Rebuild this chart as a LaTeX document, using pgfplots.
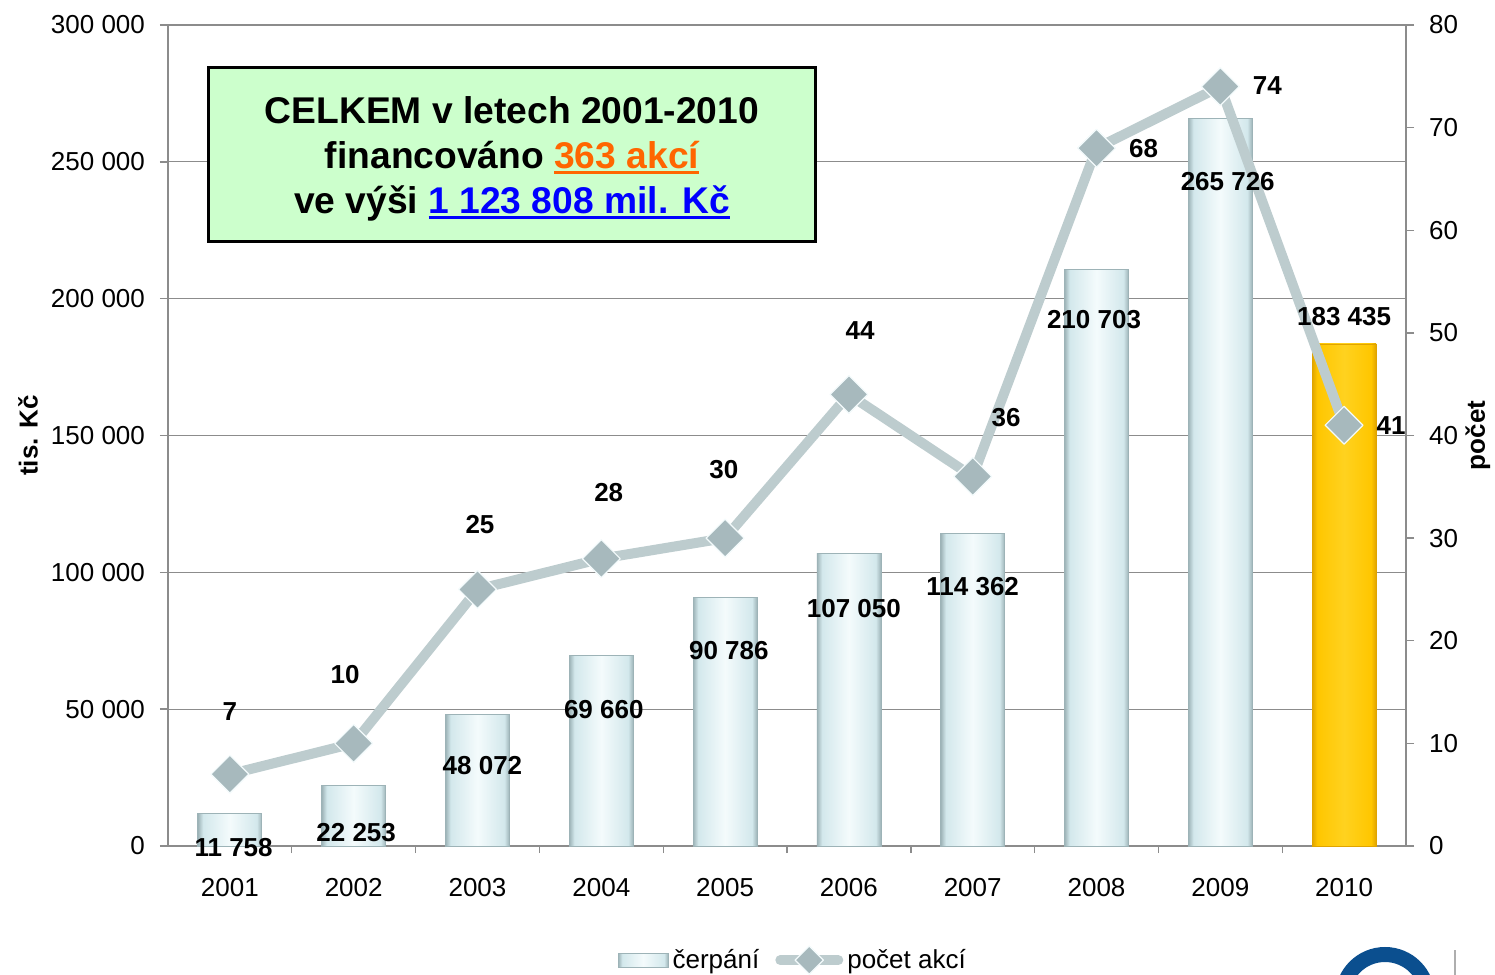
\documentclass[border=0pt]{standalone}
\usepackage{pgfplots}
\pgfplotsset{compat=1.18}
\usepackage{fontspec}
\setmainfont{Liberation Sans}
\definecolor{gridc}{HTML}{8C8C8C}
\definecolor{linec}{HTML}{BDCCCE}
\definecolor{markc}{HTML}{A7B9BD}
\definecolor{barA}{HTML}{9DB3B7}
\definecolor{barB}{HTML}{D3E8EC}
\definecolor{barC}{HTML}{F4FBFC}
\definecolor{yA}{HTML}{E0A400}
\definecolor{yB}{HTML}{FFC600}
\definecolor{yC}{HTML}{FFD21F}
\definecolor{boxg}{HTML}{CCFFCC}
\definecolor{orng}{HTML}{FF6600}
\definecolor{blu}{HTML}{0000FF}
\definecolor{logoblue}{HTML}{0B4F8F}
\pgfdeclarehorizontalshading{barshade}{100bp}{color(0bp)=(barA); color(25bp)=(barA); color(29bp)=(barB); color(50bp)=(barC); color(71bp)=(barB); color(75bp)=(barA); color(100bp)=(barA)}
\pgfdeclarehorizontalshading{yshade}{100bp}{color(0bp)=(yA); color(25bp)=(yA); color(29bp)=(yB); color(50bp)=(yC); color(71bp)=(yB); color(75bp)=(yA); color(100bp)=(yA)}
\newcommand\ul[1]{\setbox0\hbox{#1}\rlap{\rule[-2.6pt]{\wd0}{1.3pt}}\box0}
\newcommand\tfont{\fontsize{13}{15.6}\selectfont}
\pgfplotsset{
  linelegend/.style={legend image code/.code={\draw[mark repeat=2, mark phase=2, ##1, mark size=5pt] plot coordinates {(0pt,0pt) (14.5pt,0pt) (29pt,0pt)};}},
  barlegend/.style={legend image code/.code={\draw[shading=barshade, draw=barA] (0pt,-3.5pt) rectangle (25pt,3.5pt);}},
  mybar/.style={ybar, bar width=32pt, bar shift=0pt, shading=barshade, draw=barA, line width=0.4pt},
  ybarst/.style={ybar, bar width=32pt, bar shift=0pt, shading=yshade, draw=yA, line width=0.4pt},
}

\pgfplotstableread{
x cnt
0 7
1 10
2 25
3 28
4 30
5 44
6 36
7 68
8 74
9 41
}\counts

\begin{document}
\begin{tikzpicture}
\useasboundingbox (-84pt,-64.5pt) rectangle (663.5pt,423pt);
\begin{axis}[
  scale only axis, width=619pt, height=410.5pt,
  xmin=-0.5, xmax=9.5, ymin=0, ymax=300000,
  axis x line*=bottom, axis y line*=left,
  xtick={0,...,9},
  xticklabels={2001,2002,2003,2004,2005,2006,2007,2008,2009,2010},
  major x tick style={draw=none},
  minor xtick={0.5,1.5,...,8.5},
  minor tick length=3.5pt,
  ytick={0,50000,...,300000},
  ymajorgrids, grid style={gridc, line width=0.6pt},
  axis line style={gridc, line width=0.7pt},
  tick style={gridc, line width=0.7pt},
  tick align=outside, major tick length=4pt,
  scaled y ticks=false,
  /pgf/number format/fixed,
  /pgf/number format/1000 sep={\ },
  /pgf/number format/assume math mode=true,
  every tick label/.append style={font=\tfont, black},
  yticklabel style={xshift=-4pt},
  xticklabel style={yshift=-8.5pt},
  ylabel={tis. Kč},
  ylabel style={font=\bfseries\tfont, at={(axis description cs:-0.113,0.5)}, anchor=center},
  clip=false,
]
\addplot[mybar] coordinates {(0,11758)};
\addplot[mybar] coordinates {(1,22253)};
\addplot[mybar] coordinates {(2,48072)};
\addplot[mybar] coordinates {(3,69660)};
\addplot[mybar] coordinates {(4,90786)};
\addplot[mybar] coordinates {(5,107050)};
\addplot[mybar] coordinates {(6,114362)};
\addplot[mybar] coordinates {(7,210703)};
\addplot[mybar] coordinates {(8,265726)};
\addplot[ybarst] coordinates {(9,183435)};
\end{axis}
\begin{axis}[
  scale only axis, width=619pt, height=410.5pt,
  xmin=-0.5, xmax=9.5, ymin=0, ymax=80,
  axis y line*=right, axis x line=none,
  ytick={0,10,...,80},
  axis line style={gridc, line width=0.7pt},
  tick style={gridc, line width=0.7pt},
  tick align=outside, major tick length=4pt,
  /pgf/number format/assume math mode=true,
  every tick label/.append style={font=\tfont, black},
  yticklabel style={xshift=4pt},
  ylabel={počet},
  ylabel style={font=\bfseries\tfont, at={(axis description cs:1.058,0.5)}, anchor=center},
  clip=false,
  legend columns=2,
  legend style={draw=none, fill=none, font=\tfont, at={(0.5055,-0.139)}, anchor=center,
    /tikz/every odd column/.append style={column sep=0pt},
    /tikz/every even column/.append style={column sep=6pt}},
]
\addlegendimage{barlegend}
\addlegendentry{čerpání}
\addplot[linec, line width=5pt, line cap=round, line join=round, mark=square*, mark size=6.7pt,
  mark options={rotate=45, fill=markc, draw=barC, line width=0.6pt}, linelegend]
  table[x=x,y=cnt] {\counts};
\addlegendentry{počet akcí}
\addplot[draw=none, mark=none, nodes near coords, point meta=explicit symbolic, forget plot,
  nodes near coords style={font=\bfseries\tfont, anchor=center, black, inner sep=0pt}]
  coordinates {
  (0.0,13.06) [7]
  (0.93,16.66) [10]
  (2.02,31.28) [25]
  (3.06,34.4) [28]
  (3.99,36.64) [30]
  (5.09,50.18) [44]
  (6.27,41.7) [36]
  (7.38,68.0) [68]
  (8.38,74.06) [74]
  (9.38,40.93) [41]
  };
\end{axis}
\begin{axis}[
  scale only axis, width=619pt, height=410.5pt,
  xmin=-0.5, xmax=9.5, ymin=0, ymax=300000,
  hide axis, clip=false,
]
\addplot[draw=none, mark=none, nodes near coords, point meta=explicit symbolic,
  nodes near coords style={font=\bfseries\tfont, anchor=center, black, inner sep=0pt}]
  coordinates {
  (0.03,-400) [11 758]
  (1.02,4750) [22 253]
  (2.04,29230) [48 072]
  (3.02,49695) [69 660]
  (4.03,71255) [90 786]
  (5.04,86600) [107 050]
  (6.0,94640) [114 362]
  (6.98,192200) [210 703]
  (8.06,242630) [265 726]
  (9.0,193300) [183 435]
  };
\end{axis}
\node[draw=black, line width=1.5pt, fill=boxg, minimum width=303pt, minimum height=87pt,
  inner sep=0pt] at (172pt,345.5pt) {};
\node[inner sep=0pt, align=center, font=\bfseries\fontsize{18.6}{22.5}\selectfont] at (172pt,343.5pt)
  {CELKEM v letech 2001-2010\\financováno \textcolor{orng}{\ul{363 akcí}}\\ve výši \textcolor{blu}{\ul{1 123 808 mil. Kč}}};
\begin{scope}
\clip (-84pt,-64.5pt) rectangle (663.5pt,423pt);
\draw[logoblue, line width=7.5pt] (608.5pt,-75.5pt) circle (21.25pt);
\draw[gridc!70, line width=0.6pt] (643.5pt,-52pt) -- (643.5pt,-64.5pt);
\end{scope}
\end{tikzpicture}
\end{document}
